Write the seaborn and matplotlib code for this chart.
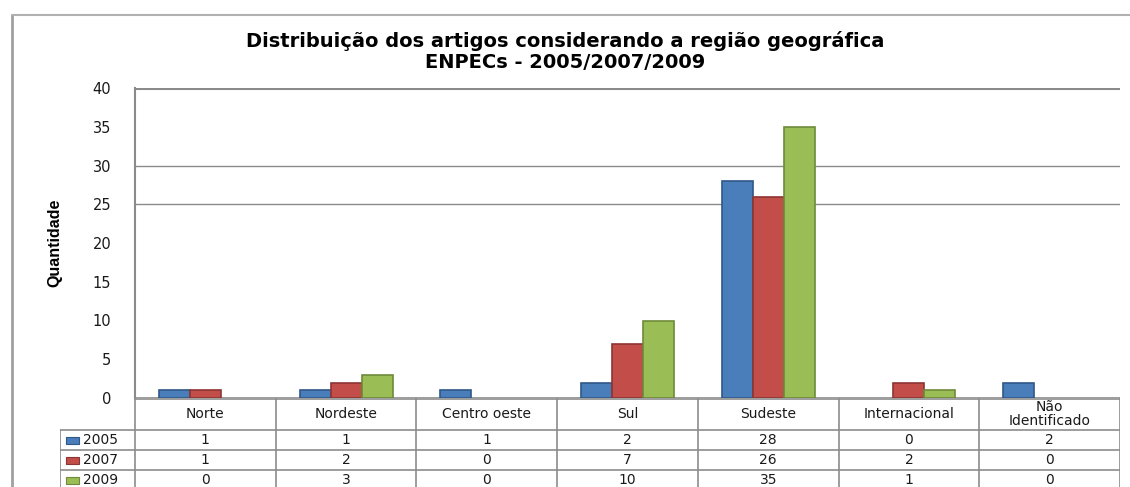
import matplotlib
matplotlib.use("Agg")
import matplotlib.pyplot as plt
from matplotlib.lines import Line2D
from matplotlib.patches import Rectangle
import pandas as pd
import seaborn as sns

# data
regioes = ["Norte", "Nordeste", "Centro oeste", "Sul", "Sudeste", "Internacional", "Não\nIdentificado"]
anos = ["2005", "2007", "2009"]
v2005 = [1, 1, 1, 2, 28, 0, 2]
v2007 = [1, 2, 0, 7, 26, 2, 0]
v2009 = [0, 3, 0, 10, 35, 1, 0]
yticks = [0, 5, 10, 15, 20, 25, 30, 35, 40]
grid_vals = [25, 30]

cores = ["#4A7EBB", "#C24D49", "#9BBD55"]
bordas = ["#2F5887", "#8C3533", "#6E8A3A"]

df = pd.DataFrame({
    "regiao": regioes * 3,
    "ano": [a for a in anos for _ in regioes],
    "qtd": v2005 + v2007 + v2009,
})

sns.set_style("white")
plt.rcParams["font.family"] = ["DejaVu Sans"]

W, H = 1130, 487
fig = plt.figure(figsize=(W / 100, H / 100), dpi=100)

# main plot area
ax = fig.add_axes([135 / W, (H - 398) / H, (1120 - 135) / W, (398 - 88) / H])
sns.barplot(data=df, x="regiao", y="qtd", hue="ano", palette=cores, saturation=1,
            width=0.66, gap=0, ax=ax, legend=False, zorder=3)
for cont, ec in zip(ax.containers, bordas):
    for b in cont:
        b.set_edgecolor(ec)
        b.set_linewidth(1.2)
        if b.get_height() == 0:
            b.set_visible(False)

ax.set_ylim(0, 40)
ax.set_xlim(-0.5, len(regioes) - 0.5)
ax.set_yticks(yticks)
ax.set_yticklabels([str(t) for t in yticks], fontsize=10.5, color="#1a1a1a")
ax.tick_params(axis="y", length=0, pad=17)
ax.set_xticks([])
ax.set_xlabel("")
ax.set_ylabel("Quantidade", fontsize=11.5, fontweight="bold", color="black",
              family=["Liberation Sans Narrow", "Liberation Sans", "DejaVu Sans"],
              labelpad=22)
for v in grid_vals:
    ax.axhline(v, color="#8a8a8a", lw=1, zorder=1)
ax.axhline(40, color="#8a8a8a", lw=2.2, zorder=1)
for s in ["top", "right", "bottom"]:
    ax.spines[s].set_visible(False)
ax.spines["left"].set_color("#8a8a8a")
ax.spines["left"].set_linewidth(1.5)
ax.axhline(0, color="#8a8a8a", lw=1.2, zorder=2)

fig.text(0.5, 0.895, "Distribuição dos artigos considerando a região geográfica\nENPECs - 2005/2007/2009",
         ha="center", va="center", fontsize=14, fontweight="bold", color="black", linespacing=1.15)

# data table under the bars
col_w = (1120 - 135) / len(regioes)
x_left = -0.5 - 75 / col_w
tab = fig.add_axes([60 / W, -3 / H, (1120 - 60) / W, 92 / H])
tab.set_xlim(x_left, len(regioes) - 0.5)
tab.set_ylim(92, 0)
tab.axis("off")
lc = "#8c8c8c"
row_y = [32, 52, 72, 92]
for i in range(len(regioes) + 1):
    tab.add_line(Line2D([i - 0.5, i - 0.5], [0, 92], color=lc, lw=1.2))
tab.add_line(Line2D([x_left, x_left], [32, 92], color=lc, lw=1.2))
tab.add_line(Line2D([-0.5, len(regioes) - 0.5], [0.6, 0.6], color=lc, lw=1.2))
for y in row_y[:3]:
    tab.add_line(Line2D([x_left, len(regioes) - 0.5], [y, y], color=lc, lw=1.2))

for i, r in enumerate(regioes):
    tab.text(i, 16, r, ha="center", va="center", fontsize=10, color="#1a1a1a", linespacing=1.05)
for k, (ano, vals) in enumerate(zip(anos, [v2005, v2007, v2009])):
    yc = (row_y[k] + row_y[k + 1]) / 2
    tab.add_patch(Rectangle((x_left + 0.045, yc - 3.5), 0.09, 7,
                            facecolor=cores[k], edgecolor=bordas[k], lw=0.8))
    tab.text(x_left + 0.16, yc, ano, ha="left", va="center", fontsize=10, color="#1a1a1a")
    for i, v in enumerate(vals):
        tab.text(i, yc, str(v), ha="center", va="center", fontsize=10, color="#1a1a1a")

# outer chart frame
fig.add_artist(Line2D([12 / W, 12 / W], [0, (H - 15) / H], color="#a0a0a0", lw=2))
fig.add_artist(Line2D([12 / W, 1], [(H - 15) / H, (H - 15) / H], color="#b0b0b0", lw=1.5))

fig.savefig("out.png", dpi=100, facecolor="white")
